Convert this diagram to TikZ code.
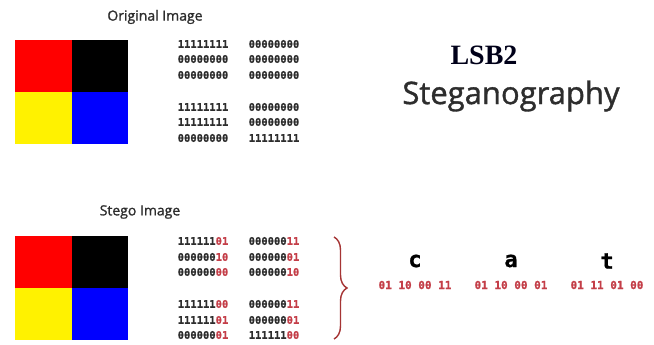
\documentclass[tikz,border=0pt]{standalone}
\usepackage{fontspec}
\setmainfont{Liberation Serif}
\newfontfamily\labelfont[FakeBold=1.2]{Open Sans}
\newfontfamily\bitfont[BoldFeatures={FakeBold=0.8}]{DejaVu Sans Mono}
\usetikzlibrary{decorations.pathreplacing}
\definecolor{lsbred}{RGB}{196,62,72}
\definecolor{bracered}{RGB}{165,52,52}
\definecolor{inkgray}{RGB}{45,45,45}
\tikzset{
  caption/.style={font=\labelfont\fontsize{14}{14}\selectfont, text=inkgray, inner sep=0pt},
  bits/.style={font=\bitfont\bfseries\fontsize{10.5}{10.5}\selectfont, text=inkgray, inner sep=0pt},
  pixel/.style={draw=none, minimum width=56.5pt, minimum height=52pt, inner sep=0pt, outer sep=0pt},
  letter/.style={font=\bitfont\bfseries\fontsize{22}{22}\selectfont, text=black, inner sep=0pt},
  code/.style={font=\bitfont\bfseries\fontsize{11}{11}\selectfont, text=lsbred, inner sep=0pt},
}
\newcommand{\lo}[1]{{\color{lsbred}#1}}
\begin{document}
\begin{tikzpicture}[x=1pt,y=-1pt]
\useasboundingbox[fill=white] (0,0) rectangle (654,345);

% ---- original image ----
\node[caption] (origcap) at (155,17) {Original Image};
\node[pixel, fill=red,    anchor=north west] (o1) at (15,40) {};
\node[pixel, fill=black,  anchor=north west] (o2) at (71.5,40) {};
\node[pixel, fill=yellow, anchor=north west] (o3) at (15,92) {};
\node[pixel, fill=blue,   anchor=north west] (o4) at (71.5,92) {};

\node[bits] (oa1) at (203,44)  {11111111};
\node[bits] (oa2) at (203,59)  {00000000};
\node[bits] (oa3) at (203,75)  {00000000};
\node[bits] (oa4) at (203,107) {11111111};
\node[bits] (oa5) at (203,122) {11111111};
\node[bits] (oa6) at (203,138) {00000000};
\node[bits] (ob1) at (274,44)  {00000000};
\node[bits] (ob2) at (274,59)  {00000000};
\node[bits] (ob3) at (274,75)  {00000000};
\node[bits] (ob4) at (274,107) {00000000};
\node[bits] (ob5) at (274,122) {00000000};
\node[bits] (ob6) at (274,138) {11111111};

% ---- title ----
\node[font=\bfseries\fontsize{28}{28}\selectfont, text=black!90!blue, inner sep=0pt] (lsb) at (484,55) {LSB2};
\node[font=\labelfont\fontsize{31}{31}\selectfont, text=inkgray, inner sep=0pt] (steg) at (511,96) {Steganography};

% ---- stego image ----
\node[caption] (stegcap) at (140,212) {Stego Image};
\node[pixel, fill=red,    anchor=north west] (s1) at (15,236) {};
\node[pixel, fill=black,  anchor=north west] (s2) at (71.5,236) {};
\node[pixel, fill=yellow, anchor=north west] (s3) at (15,288) {};
\node[pixel, fill=blue,   anchor=north west] (s4) at (71.5,288) {};

\node[bits] (sa1) at (203,241) {111111\lo{01}};
\node[bits] (sa2) at (203,257) {000000\lo{10}};
\node[bits] (sa3) at (203,272) {000000\lo{00}};
\node[bits] (sa4) at (203,304) {111111\lo{00}};
\node[bits] (sa5) at (203,320) {111111\lo{01}};
\node[bits] (sa6) at (203,335) {000000\lo{01}};
\node[bits] (sb1) at (274,241) {000000\lo{11}};
\node[bits] (sb2) at (274,257) {000000\lo{01}};
\node[bits] (sb3) at (274,272) {000000\lo{10}};
\node[bits] (sb4) at (274,304) {000000\lo{11}};
\node[bits] (sb5) at (274,320) {000000\lo{01}};
\node[bits] (sb6) at (274,335) {111111\lo{00}};

% ---- brace gathering the low bits ----
\coordinate (btop) at (334,237);
\coordinate (bbot) at (334,339);
\draw[bracered, line width=1.4pt, decorate, decoration={brace, amplitude=13pt}] (btop) -- (bbot);

% ---- hidden message ----
\node[letter] (c) at (415,261) {c};
\node[letter] (a) at (511,261) {a};
\node[letter] (t) at (607,261) {t};
\node[code] (cc) at (415,285) {01 10 00 11};
\node[code] (ca) at (511,285) {01 10 00 01};
\node[code] (ct) at (607,285) {01 11 01 00};
\end{tikzpicture}
\end{document}
